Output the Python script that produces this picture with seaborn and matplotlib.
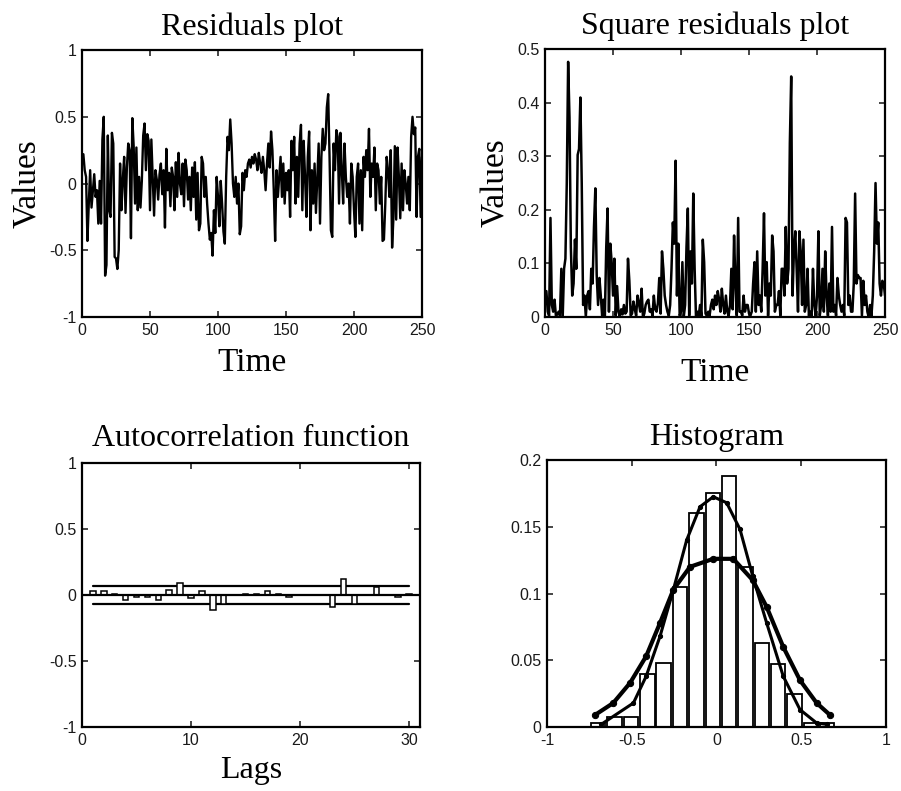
import numpy as np
import pandas as pd
import matplotlib
matplotlib.use("Agg")
import matplotlib.pyplot as plt
import seaborn as sns

# residuals, t = 1..250
resid = np.array([
    0.22, 0.10, 0.05, -0.43, -0.15, 0.10, -0.18, -0.05, 0.07, -0.10,
    -0.05, -0.30, 0.02, -0.30, 0.33, 0.50, -0.69, -0.61, 0.36, -0.20,
    -0.25, 0.38, 0.30, -0.55, -0.56, -0.64, -0.50, 0.15, -0.20, 0.03,
    0.20, -0.22, 0.12, 0.30, 0.25, -0.41, 0.49, 0.28, -0.15, 0.27,
    -0.20, 0.05, -0.18, 0.02, 0.36, 0.45, 0.10, 0.37, 0.32, -0.20,
    0.33, 0.05, -0.24, 0.10, 0.03, -0.12, 0.07, 0.15, -0.08, 0.10,
    -0.33, 0.26, -0.05, 0.08, -0.17, 0.12, 0.05, -0.20, 0.16, -0.10,
    0.23, 0.00, -0.08, 0.15, -0.17, 0.18, 0.10, -0.12, 0.05, -0.20,
    0.12, -0.10, 0.16, -0.27, 0.08, -0.35, -0.30, 0.20, 0.15, -0.10,
    0.05, -0.15, -0.30, -0.42, -0.37, -0.54, -0.20, -0.37, 0.05, -0.10,
    -0.32, 0.02, -0.15, -0.36, -0.45, 0.05, 0.35, 0.25, 0.48, 0.30,
    0.00, -0.10, 0.05, -0.15, 0.00, -0.38, -0.32, 0.08, -0.05, 0.10,
    0.05, 0.15, 0.18, 0.12, 0.20, 0.15, 0.22, 0.18, 0.10, 0.23,
    0.15, 0.08, 0.20, 0.10, -0.05, 0.15, 0.30, 0.12, 0.39, 0.25,
    -0.05, -0.43, 0.10, -0.10, 0.05, 0.20, -0.10, 0.15, -0.15, 0.08,
    -0.05, 0.10, -0.25, 0.32, 0.10, 0.35, -0.15, 0.20, -0.10, 0.30,
    0.44, -0.20, 0.32, 0.05, -0.25, 0.20, 0.39, -0.35, 0.10, -0.15,
    0.15, -0.22, 0.05, 0.30, -0.30, 0.20, 0.41, 0.25, 0.30, 0.57,
    0.67, 0.20, -0.35, -0.40, 0.30, 0.10, 0.40, 0.35, -0.15, 0.38,
    0.10, -0.15, 0.30, 0.05, -0.10, 0.00, -0.30, 0.15, 0.05, -0.20,
    -0.40, 0.05, 0.15, -0.30, 0.10, -0.35, 0.20, 0.05, 0.25, 0.10,
    0.41, -0.10, 0.15, 0.05, 0.27, -0.20, 0.15, 0.10, -0.15, 0.05,
    -0.43, -0.42, -0.15, 0.20, 0.10, -0.10, 0.25, -0.48, -0.25, 0.28,
    -0.27, 0.27, 0.05, -0.26, 0.15, -0.20, 0.10, 0.00, -0.15, 0.05,
    -0.20, 0.35, 0.50, 0.37, 0.42, -0.25, 0.20, 0.26, -0.25, 0.20,
])
time = np.arange(1, len(resid) + 1)
sq_resid = resid ** 2

# autocorrelation bars, lags 1..30
lags = np.arange(1, 31)
acf = [0.033, 0.03, 0.008, -0.035, -0.015, -0.015, -0.035, 0.035, 0.088, -0.02,
       0.033, -0.11, -0.07, 0.0, 0.01, 0.01, 0.033, 0.008, -0.015, 0.0,
       0.0, 0.0, -0.094, 0.12, -0.07, 0.0, 0.058, 0.0, -0.012, 0.01]
conf_band = 0.07

# histogram bins (centres) and relative frequencies
hist_centers = [-0.698, -0.601, -0.505, -0.408, -0.312, -0.215, -0.119, -0.022,
                0.074, 0.171, 0.267, 0.364, 0.460, 0.557, 0.653]
hist_heights = [0.003, 0.0075, 0.0075, 0.040, 0.048, 0.105, 0.160, 0.175,
                0.188, 0.120, 0.063, 0.047, 0.025, 0.003, 0.003]

# the two fitted curves drawn over the histogram
wide_x = [-0.717, -0.609, -0.51, -0.415, -0.333, -0.254, -0.156, -0.019,
          0.099, 0.214, 0.296, 0.394, 0.493, 0.591, 0.67]
wide_y = [0.009, 0.018, 0.033, 0.053, 0.078, 0.103, 0.120, 0.126,
          0.126, 0.110, 0.090, 0.060, 0.035, 0.018, 0.009]
narrow_x = [-0.68, -0.49, -0.415, -0.333, -0.254, -0.176, -0.097, -0.019,
            0.06, 0.139, 0.214, 0.296, 0.394, 0.493, 0.591, 0.65]
narrow_y = [0.002, 0.018, 0.038, 0.068, 0.103, 0.140, 0.165, 0.1725,
            0.168, 0.148, 0.113, 0.078, 0.038, 0.013, 0.003, 0.002]

sns.set_theme(style="ticks", rc={"text.color": "black", "axes.labelcolor": "black"})
plt.rcParams["font.family"] = ["Liberation Sans", "DejaVu Sans"]
serif = ["Liberation Serif", "DejaVu Serif"]

fig = plt.figure(figsize=(9.01, 7.91), dpi=100)
ax1 = fig.add_axes([0.0910, 0.5992, 0.3774, 0.3375])
ax2 = fig.add_axes([0.6049, 0.5992, 0.3774, 0.3388])
ax3 = fig.add_axes([0.0910, 0.0809, 0.3751, 0.3338])
ax4 = fig.add_axes([0.6071, 0.0809, 0.3762, 0.3375])

df = pd.DataFrame({"Time": time, "resid": resid, "sq": sq_resid})
sns.lineplot(data=df, x="Time", y="resid", ax=ax1, color="black", lw=1.7,
             estimator=None, sort=False)
sns.lineplot(data=df, x="Time", y="sq", ax=ax2, color="black", lw=1.8,
             estimator=None, sort=False)

ax3.bar(lags, acf, width=0.5, color="white", edgecolor="black", lw=1.1, zorder=3)
ax3.axhline(0, color="black", lw=1.6, zorder=4)
sns.lineplot(x=[1, 30], y=[conf_band, conf_band], ax=ax3, color="black", lw=1.6)
sns.lineplot(x=[1, 30], y=[-conf_band, -conf_band], ax=ax3, color="black", lw=1.6)

ax4.bar(hist_centers, hist_heights, width=0.085, color="white", edgecolor="black", lw=1.3)
sns.lineplot(x=wide_x, y=wide_y, ax=ax4, color="black", lw=3.0, marker="o", ms=4.5,
             mec="black", estimator=None, sort=False)
sns.lineplot(x=narrow_x, y=narrow_y, ax=ax4, color="black", lw=2.2, marker="o", ms=3,
             mec="black", estimator=None, sort=False)

ax1.set(xlim=(0, 250), ylim=(-1, 1), xticks=[0, 50, 100, 150, 200, 250],
        yticks=[-1, -0.5, 0, 0.5, 1])
ax1.set_yticklabels(["-1", "-0.5", "0", "0.5", "1"])
ax2.set(xlim=(0, 250), ylim=(0, 0.5), xticks=[0, 50, 100, 150, 200, 250],
        yticks=[0, 0.1, 0.2, 0.3, 0.4, 0.5])
ax2.set_yticklabels(["0", "0.1", "0.2", "0.3", "0.4", "0.5"])
ax3.set(xlim=(0, 31), ylim=(-1, 1), xticks=[0, 10, 20, 30], yticks=[-1, -0.5, 0, 0.5, 1])
ax3.set_yticklabels(["-1", "-0.5", "0", "0.5", "1"])
ax4.set(xlim=(-1, 1), ylim=(0, 0.2), xticks=[-1, -0.5, 0, 0.5, 1],
        yticks=[0, 0.05, 0.1, 0.15, 0.2])
ax4.set_xticklabels(["-1", "-0.5", "0", "0.5", "1"])
ax4.set_yticklabels(["0", "0.05", "0.1", "0.15", "0.2"])

for ax in (ax1, ax2, ax3, ax4):
    for s in ax.spines.values():
        s.set_visible(True)
        s.set_linewidth(1.6)
        s.set_color("black")
    ax.tick_params(direction="in", length=4, width=1.2, top=True, right=True,
                   labelsize=11.5, labelcolor="#1a1a1a", pad=4)
    ax.set_xlabel("")
    ax.set_ylabel("")

ax1.set_title("Residuals plot", family=serif, fontsize=23, pad=11)
ax2.set_title("Square residuals plot", family=serif, fontsize=23, pad=11)
ax3.set_title("Autocorrelation function", family=serif, fontsize=23, pad=12)
ax4.set_title("Histogram", family=serif, fontsize=23, pad=11)

ax1.set_ylabel("Values", family=serif, fontsize=24, labelpad=4)
ax2.set_ylabel("Values", family=serif, fontsize=24, labelpad=4)
ax1.set_xlabel("Time", family=serif, fontsize=24, labelpad=7)
ax2.set_xlabel("Time", family=serif, fontsize=24, labelpad=14)
ax3.set_xlabel("Lags", family=serif, fontsize=23, labelpad=6)

fig.savefig("out.png", dpi=100)
